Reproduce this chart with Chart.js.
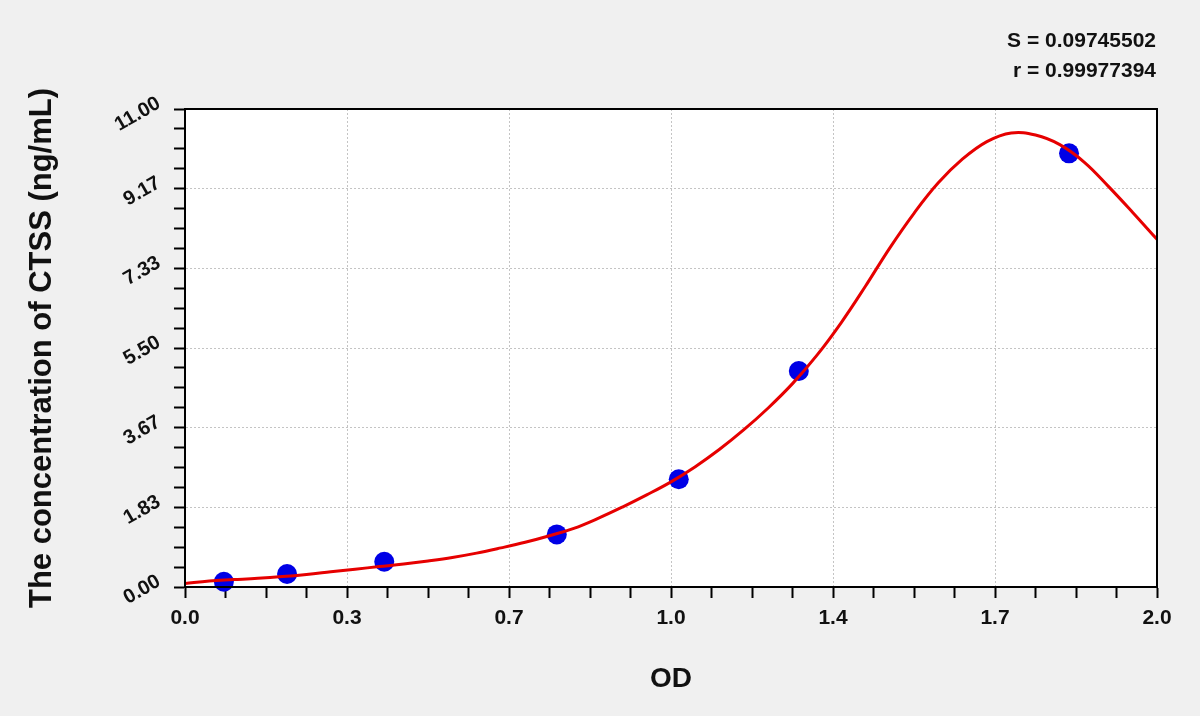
<!DOCTYPE html>
<html>
<head>
<meta charset="utf-8">
<script src="https://cdn.jsdelivr.net/npm/chart.js@4/dist/chart.umd.min.js"></script>
<style>
  html, body { margin: 0; padding: 0; background: #f0f0f0; }
  #wrap { width: 1200px; height: 716px; }
</style>
</head>
<body>
<div id="wrap"><canvas id="c" width="1200" height="716"></canvas></div>
<script>
// ---- data ----
const curveX = [0.00, 0.05, 0.10, 0.15, 0.20, 0.25, 0.30, 0.35, 0.40, 0.45, 0.50, 0.55, 0.60, 0.65, 0.70, 0.75, 0.80, 0.85, 0.90, 0.95, 1.00, 1.05, 1.10, 1.15, 1.20, 1.25, 1.30, 1.35, 1.40, 1.45, 1.50, 1.55, 1.60, 1.65, 1.70, 1.75, 1.80, 1.85, 1.90, 1.95, 2.00];
const curveY = [0.08, 0.14, 0.17, 0.20, 0.24, 0.29, 0.35, 0.41, 0.47, 0.53, 0.60, 0.68, 0.78, 0.90, 1.03, 1.18, 1.35, 1.58, 1.84, 2.12, 2.42, 2.77, 3.17, 3.62, 4.12, 4.68, 5.33, 6.08, 6.92, 7.80, 8.60, 9.30, 9.85, 10.25, 10.45, 10.40, 10.18, 9.78, 9.22, 8.62, 8.00];
const stdOD   = [0.08, 0.21, 0.41, 0.765, 1.016, 1.263, 1.819];
const stdConc = [0.12, 0.30, 0.58, 1.21, 2.48, 4.97, 9.98];
const xTickLabels = ['0.0', '0.3', '0.7', '1.0', '1.4', '1.7', '2.0'];
const yTickLabels = ['0.00', '1.83', '3.67', '5.50', '7.33', '9.17', '11.00'];
const xMax = 2;
const yMax = 11;
const xTitle = 'OD';
const yTitle = 'The concentration of CTSS (ng/mL)';
const statsLines = ['S = 0.09745502', 'r = 0.99977394'];

const MINOR = 4; // subdivisions between labelled ticks
const FONT = '"Liberation Sans", Arial, sans-serif';

function makeTicks(max, nMajor) {
  const n = nMajor * MINOR;
  const out = [];
  for (let i = 0; i <= n; i++) out.push({ value: i * max / n });
  return out;
}

const bgPlugin = {
  id: 'bg',
  beforeDraw(chart) {
    const { ctx, chartArea: a } = chart;
    ctx.save();
    ctx.fillStyle = '#f0f0f0';
    ctx.fillRect(0, 0, chart.width, chart.height);
    ctx.fillStyle = '#ffffff';
    ctx.fillRect(a.left, a.top, a.right - a.left, a.bottom - a.top);
    ctx.restore();
  },
  afterDraw(chart) {
    const { ctx, chartArea: a } = chart;
    ctx.save();
    ctx.strokeStyle = '#000';
    ctx.lineWidth = 2;
    ctx.strokeRect(a.left, a.top, a.right - a.left, a.bottom - a.top);
    ctx.fillStyle = '#111';
    ctx.font = 'bold 21px ' + FONT;
    ctx.textAlign = 'right';
    ctx.textBaseline = 'alphabetic';
    ctx.fillText(statsLines[0], a.right - 1, 47);
    ctx.fillText(statsLines[1], a.right - 1, 77);
    ctx.restore();
  }
};

const gridColor = (c) => (c.index % MINOR === 0 ? '#c4c4c4' : 'rgba(0,0,0,0)');

new Chart(document.getElementById('c'), {
  type: 'scatter',
  data: {
    datasets: [
      {
        type: 'line',
        label: 'fit',
        data: curveX.map((x, i) => ({ x, y: curveY[i] })),
        borderColor: '#e60000',
        borderWidth: 3,
        pointRadius: 0,
        fill: false,
        tension: 0.4
      },
      {
        label: 'standards',
        data: stdOD.map((x, i) => ({ x, y: stdConc[i] })),
        backgroundColor: '#0000e6',
        borderColor: '#0000e6',
        pointRadius: 10,
        pointHoverRadius: 10,
        borderWidth: 0,
        clip: false
      }
    ]
  },
  options: {
    responsive: false,
    animation: false,
    devicePixelRatio: 1,
    events: [],
    layout: { padding: { left: 0, right: 43, top: 109, bottom: 0 } },
    plugins: { legend: { display: false }, tooltip: { enabled: false }, title: { display: false } },
    scales: {
      x: {
        type: 'linear',
        min: 0,
        max: xMax,
        afterBuildTicks: (s) => { s.ticks = makeTicks(xMax, xTickLabels.length - 1); },
        afterFit: (s) => { s.height = 129; },
        ticks: {
          autoSkip: false,
          maxRotation: 0,
          minRotation: 0,
          padding: 8,
          color: '#111',
          font: { family: FONT, size: 21, weight: 'bold' },
          callback: (v, i) => (i % MINOR === 0 ? xTickLabels[i / MINOR] : '')
        },
        grid: {
          color: gridColor,
          lineWidth: 1,
          tickColor: '#000',
          tickWidth: 2,
          tickLength: 11
        },
        border: { color: '#000', width: 2, dash: [2, 2] },
        title: {
          display: true,
          text: xTitle,
          color: '#111',
          font: { family: FONT, size: 28, weight: 'bold' },
          padding: { top: 0, bottom: 20 }
        }
      },
      y: {
        type: 'linear',
        min: 0,
        max: yMax,
        afterBuildTicks: (s) => { s.ticks = makeTicks(yMax, yTickLabels.length - 1); },
        afterFit: (s) => { s.width = 185; },
        ticks: {
          autoSkip: false,
          minRotation: 30,
          maxRotation: 30,
          padding: 15,
          labelOffset: -7,
          color: '#111',
          font: { family: FONT, size: 20, weight: 'bold' },
          callback: (v, i) => (i % MINOR === 0 ? yTickLabels[i / MINOR] : '')
        },
        grid: {
          color: gridColor,
          lineWidth: 1,
          tickColor: '#000',
          tickWidth: 2,
          tickLength: 11
        },
        border: { color: '#000', width: 2, dash: [2, 2] },
        title: {
          display: true,
          text: yTitle,
          color: '#111',
          font: { family: FONT, size: 31, weight: 'bold' },
          padding: { top: 24, bottom: 0 }
        }
      }
    }
  },
  plugins: [bgPlugin]
});
</script>
</body>
</html>
